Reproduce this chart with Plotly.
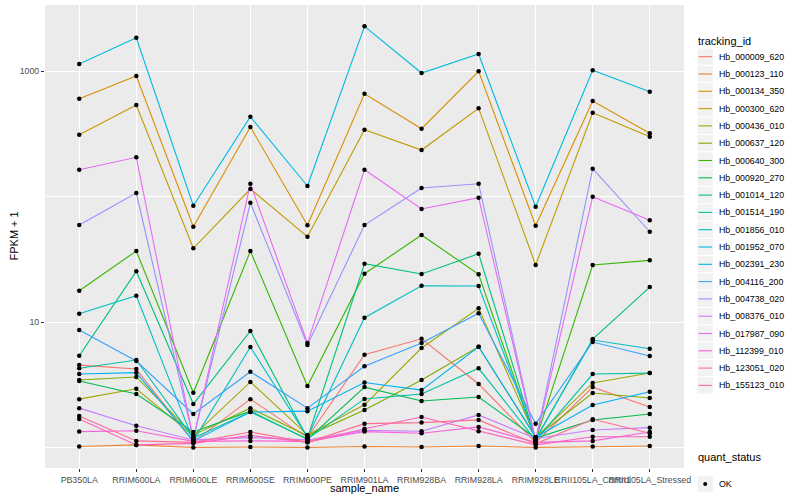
import plotly.graph_objects as go

# ---------------- data (FPKM + 1) ----------------
samples = ["PB350LA", "RRIM600LA", "RRIM600LE", "RRIM600SE", "RRIM600PE",
           "RRIM901LA", "RRIM928BA", "RRIM928LA", "RRIM928LE",
           "RRII105LA_Control", "RRII105LA_Stressed"]

tracking_ids = ["Hb_000009_620", "Hb_000123_110", "Hb_000134_350", "Hb_000300_620",
                "Hb_000436_010", "Hb_000637_120", "Hb_000640_300", "Hb_000920_270",
                "Hb_001014_120", "Hb_001514_190", "Hb_001856_010", "Hb_001952_070",
                "Hb_002391_230", "Hb_004116_200", "Hb_004738_020", "Hb_008376_010",
                "Hb_017987_090", "Hb_112399_010", "Hb_123051_020", "Hb_155123_010"]

colors = ["#F8766D", "#EA8331", "#D89000", "#C09B00", "#A3A500", "#7CAE00", "#39B600",
          "#00BB4E", "#00BF7D", "#00C1A3", "#00BFC4", "#00BAE0", "#00B0F6", "#35A2FF",
          "#9590FF", "#C77CFF", "#E76BF3", "#FA62DB", "#FF62BC", "#FF6C91"]

Hb_000009_620 = [4.54, 4.22, 1.11, 2.43, 1.20, 5.49, 7.36, 3.21, 1.10, 3.03, 2.10]
Hb_000123_110 = [1.02, 1.05, 1.00, 1.01, 1.00, 1.02, 1.01, 1.03, 1.00, 1.02, 1.03]
Hb_000134_350 = [601.6, 912.4, 57.5, 357.9, 59.0, 659.4, 346.9, 994.5, 58.5, 576.8, 318.9]
Hb_000300_620 = [310.8, 535.9, 38.7, 114.8, 47.9, 340.6, 234.7, 504.5, 28.5, 465.3, 299.6]
Hb_000436_010 = [2.43, 2.94, 1.24, 3.33, 1.26, 2.19, 6.21, 12.86, 1.20, 3.27, 3.92]
Hb_000637_120 = [3.45, 3.65, 1.26, 2.06, 1.24, 1.99, 3.45, 6.36, 1.21, 2.72, 2.48]
Hb_000640_300 = [17.76, 36.8, 2.73, 36.8, 3.09, 24.26, 49.35, 23.99, 1.15, 28.46, 31.0]
Hb_000920_270 = [3.39, 2.67, 1.33, 1.95, 1.16, 3.03, 2.35, 2.53, 1.19, 1.66, 1.85]
Hb_001014_120 = [5.39, 25.35, 2.22, 8.48, 1.19, 29.14, 24.12, 35.02, 1.16, 7.32, 19.0]
Hb_001514_190 = [4.28, 4.98, 1.19, 1.92, 1.17, 2.44, 2.67, 4.28, 1.14, 3.85, 3.92]
Hb_001856_010 = [11.65, 16.2, 1.13, 6.32, 1.21, 10.82, 19.47, 19.36, 1.17, 7.19, 6.13]
Hb_001952_070 = [1137, 1842, 84.5, 432.5, 121.3, 2271, 964, 1366, 82.9, 1013, 684.1]
Hb_002391_230 = [3.85, 3.95, 1.13, 1.92, 1.95, 3.30, 2.87, 6.36, 1.21, 2.18, 2.78]
Hb_004116_200 = [8.64, 4.89, 1.85, 4.02, 2.06, 4.44, 6.80, 11.73, 1.55, 6.93, 5.36]
Hb_004738_020 = [59.3, 106.6, 1.18, 89.2, 6.56, 59.3, 116.9, 126.5, 1.14, 166.5, 52.4]
Hb_008376_010 = [2.06, 1.49, 1.15, 1.20, 1.15, 1.37, 1.35, 1.82, 1.18, 1.38, 1.44]
Hb_017987_090 = [163.5, 205.3, 1.16, 126.5, 6.80, 163.5, 79.5, 97.8, 1.13, 99.6, 64.6]
Hb_112399_010 = [1.34, 1.36, 1.12, 1.13, 1.12, 1.34, 1.30, 1.46, 1.10, 1.13, 1.33]
Hb_123051_020 = [1.69, 1.05, 1.08, 1.25, 1.10, 1.41, 1.75, 1.35, 1.05, 1.22, 1.22]
Hb_155123_010 = [1.78, 1.13, 1.10, 1.33, 1.10, 1.55, 1.58, 1.66, 1.07, 1.68, 1.30]

series = [Hb_000009_620, Hb_000123_110, Hb_000134_350, Hb_000300_620, Hb_000436_010,
          Hb_000637_120, Hb_000640_300, Hb_000920_270, Hb_001014_120, Hb_001514_190,
          Hb_001856_010, Hb_001952_070, Hb_002391_230, Hb_004116_200, Hb_004738_020,
          Hb_008376_010, Hb_017987_090, Hb_112399_010, Hb_123051_020, Hb_155123_010]

quant_status = ["OK"]
y_ticks = [10, 1000]
y_minor = [1, 100, 10000]

# ---------------- layout geometry (pixels) ----------------
W, H = 800, 500
PL, PR, PT, PB = 45, 684, 5, 468
FONT = "Liberation Sans, Arial, Helvetica, sans-serif"


def px_x(px):
    return (px - PL) / (PR - PL)


def px_y(py):
    return (PB - py) / (PB - PT)


fig = go.Figure()

for tid, col, vals in zip(tracking_ids, colors, series):
    fig.add_trace(go.Scatter(x=samples, y=vals, mode="lines", name=tid,
                             line=dict(color=col, width=1.1), showlegend=False,
                             hoverinfo="x+y+name"))

# points layer (drawn on top of all lines, as in ggplot)
all_x, all_y = [], []
for vals in series:
    all_x += samples
    all_y += vals
fig.add_trace(go.Scatter(x=all_x, y=all_y, mode="markers", name=quant_status[0],
                         marker=dict(color="black", size=4.5), showlegend=False))

shapes = []
annotations = []

# legend: tracking_id
annotations.append(dict(text="tracking_id", xref="paper", yref="paper",
                        x=px_x(696), y=px_y(40.7), xanchor="left", yanchor="middle",
                        showarrow=False, font=dict(family=FONT, size=11, color="black")))
for i, (tid, col) in enumerate(zip(tracking_ids, colors)):
    yc = 56.7 + 17.3 * i
    shapes.append(dict(type="rect", xref="paper", yref="paper",
                       x0=px_x(697), x1=px_x(713.5), y0=px_y(yc - 8.65), y1=px_y(yc + 8.65),
                       fillcolor="#F2F2F2", line=dict(color="white", width=1), layer="above"))
    shapes.append(dict(type="line", xref="paper", yref="paper",
                       x0=px_x(698.5), x1=px_x(712), y0=px_y(yc), y1=px_y(yc),
                       line=dict(color=col, width=1.1), layer="above"))
    annotations.append(dict(text=tid, xref="paper", yref="paper",
                            x=px_x(716.5), y=px_y(yc), xanchor="left", yanchor="middle",
                            showarrow=False, font=dict(family=FONT, size=8.8, color="black")))

# legend: quant_status
annotations.append(dict(text="quant_status", xref="paper", yref="paper",
                        x=px_x(696), y=px_y(457), xanchor="left", yanchor="middle",
                        showarrow=False, font=dict(family=FONT, size=11, color="black")))
for j, q in enumerate(quant_status):
    yc = 484 + 17.3 * j
    shapes.append(dict(type="rect", xref="paper", yref="paper",
                       x0=px_x(697), x1=px_x(713.5), y0=px_y(yc - 8.65), y1=px_y(yc + 8.65),
                       fillcolor="#F2F2F2", line=dict(color="white", width=1), layer="above"))
    shapes.append(dict(type="circle", xref="paper", yref="paper",
                       x0=px_x(703.2), x1=px_x(707.2), y0=px_y(yc - 2), y1=px_y(yc + 2),
                       fillcolor="black", line=dict(color="black", width=0), layer="above"))
    annotations.append(dict(text=q, xref="paper", yref="paper",
                            x=px_x(716.5), y=px_y(yc), xanchor="left", yanchor="middle",
                            showarrow=False, font=dict(family=FONT, size=8.8, color="black")))

# axis titles
annotations.append(dict(text="sample_name", xref="paper", yref="paper",
                        x=0.5, y=px_y(488), xanchor="center", yanchor="middle",
                        showarrow=False, font=dict(family=FONT, size=11, color="black")))
annotations.append(dict(text="FPKM + 1", xref="paper", yref="paper",
                        x=px_x(13), y=0.5, xanchor="center", yanchor="middle", textangle=-90,
                        showarrow=False, font=dict(family=FONT, size=11, color="black")))

fig.update_layout(
    width=W, height=H,
    margin=dict(l=PL, r=W - PR, t=PT, b=H - PB, pad=0),
    paper_bgcolor="white", plot_bgcolor="#EBEBEB",
    font=dict(family=FONT, size=9, color="#4D4D4D"),
    showlegend=False,
    shapes=shapes, annotations=annotations,
    xaxis=dict(type="category", categoryorder="array", categoryarray=samples,
               range=[-0.6, len(samples) - 0.4], tickangle=0,
               showgrid=True, gridcolor="white", gridwidth=1.1, zeroline=False,
               ticks="outside", ticklen=3, tickwidth=1, tickcolor="#333333",
               tickfont=dict(family=FONT, size=8.8, color="#4D4D4D"),
               showline=False, fixedrange=True),
    yaxis=dict(type="log", range=[-0.163, 3.526],
               tickvals=y_ticks, ticktext=[str(v) for v in y_ticks],
               showgrid=True, gridcolor="white", gridwidth=1.1, zeroline=False,
               ticks="outside", ticklen=3, tickwidth=1, tickcolor="#333333",
               tickfont=dict(family=FONT, size=8.8, color="#4D4D4D"),
               minor=dict(tickvals=y_minor, showgrid=True, gridcolor="white",
                          gridwidth=0.55, ticks=""),
               showline=False, fixedrange=True),
)

fig.write_html("out.html", config={"displayModeBar": False},
               post_script="document.body.style.margin='0';document.body.style.padding='0';")
